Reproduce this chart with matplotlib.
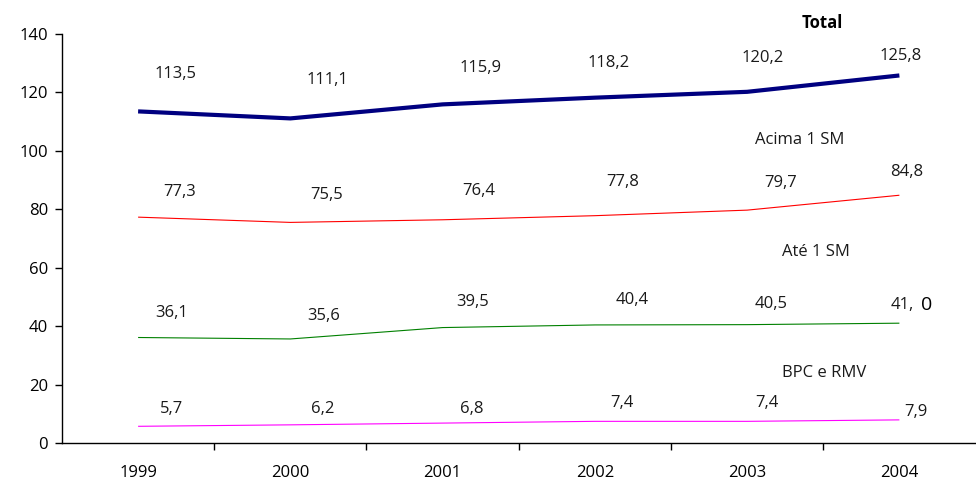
import matplotlib
matplotlib.use('Agg')
import matplotlib.pyplot as plt
import numpy as np

plt.rcParams['font.family'] = ['Open Sans', 'DejaVu Sans']

anos = ['1999', '2000', '2001', '2002', '2003', '2004']
total = [113.5, 111.1, 115.9, 118.2, 120.2, 125.8]
acima_1sm = [77.3, 75.5, 76.4, 77.8, 79.7, 84.8]
ate_1sm = [36.1, 35.6, 39.5, 40.4, 40.5, 41.0]
bpc_rmv = [5.7, 6.2, 6.8, 7.4, 7.4, 7.9]

total_txt = ['113,5', '111,1', '115,9', '118,2', '120,2', '125,8']
acima_txt = ['77,3', '75,5', '76,4', '77,8', '79,7', '84,8']
ate_txt = ['36,1', '35,6', '39,5', '40,4', '40,5', '41,']
bpc_txt = ['5,7', '6,2', '6,8', '7,4', '7,4', '7,9']

# label offsets in points (dx, dy) from each point
off_total = [(27, 27), (27, 28), (27, 26), (10, 25), (11, 24), (1, 14)]
off_acima = [(30, 18), (26, 20), (26, 21), (20, 24), (24, 19.5), (5, 17)]
off_ate = [(24, 17.5), (24, 16.5), (21.5, 18.5), (27, 18), (17, 15), (2, 13)]
off_bpc = [(24, 12.5), (23, 11.5), (21, 10), (19.5, 13), (14, 13), (12, 6)]

fig = plt.figure(figsize=(9.76, 4.82), dpi=100)
ax = fig.add_axes([0.0635, 0.081, 0.936, 0.8485])

x = np.arange(len(anos))
series = [
    (total, total_txt, off_total, '#000080', 3.0),
    (acima_1sm, acima_txt, off_acima, '#FF0000', 0.8),
    (ate_1sm, ate_txt, off_ate, '#008000', 0.8),
    (bpc_rmv, bpc_txt, off_bpc, '#FF00FF', 0.8),
]
for vals, txt, off, col, lw in series:
    ax.plot(x, vals, color=col, lw=lw, solid_capstyle='butt')
    for xi, yi, t, (dx, dy) in zip(x, vals, txt, off):
        ax.annotate(t, (xi, yi), xytext=(dx, dy), textcoords='offset points',
                    ha='center', va='center', fontsize=12, color='#1a1a1a')

# trailing zero of 41,0 is set larger
ax.annotate('0', (x[-1], ate_1sm[-1]), xytext=(19.5, 13), textcoords='offset points',
            ha='center', va='center', fontsize=14, color='#000000')

# series names
fig.text(822 / 976, 1 - 23 / 482, 'Total', fontsize=12, fontweight='bold',
         ha='center', va='center')
fig.text(800 / 976, 1 - 140 / 482, 'Acima 1 SM', fontsize=12, ha='center', va='center', color='#1a1a1a')
fig.text(816 / 976, 1 - 252 / 482, 'Até 1 SM', fontsize=12, ha='center', va='center', color='#1a1a1a')
fig.text(824 / 976, 1 - 373 / 482, 'BPC e RMV', fontsize=12, ha='center', va='center', color='#1a1a1a')

ax.set_xlim(-0.5, len(anos) - 0.5)
ax.set_ylim(0, 140)
ax.set_yticks(np.arange(0, 141, 20))
ax.set_xticks(x)
ax.set_xticklabels(anos)
ax.set_xticks(np.arange(0.5, len(anos) - 0.5, 1), minor=True)
ax.tick_params(axis='x', which='major', length=0, pad=16, labelsize=12)
ax.tick_params(axis='x', which='minor', length=5, width=1, direction='out')
ax.tick_params(axis='y', length=5, width=1, labelsize=12, pad=5)
for s in ['top', 'right']:
    ax.spines[s].set_visible(False)
ax.spines['left'].set_linewidth(1)
ax.spines['bottom'].set_linewidth(1)

fig.savefig('out.png', dpi=100)
